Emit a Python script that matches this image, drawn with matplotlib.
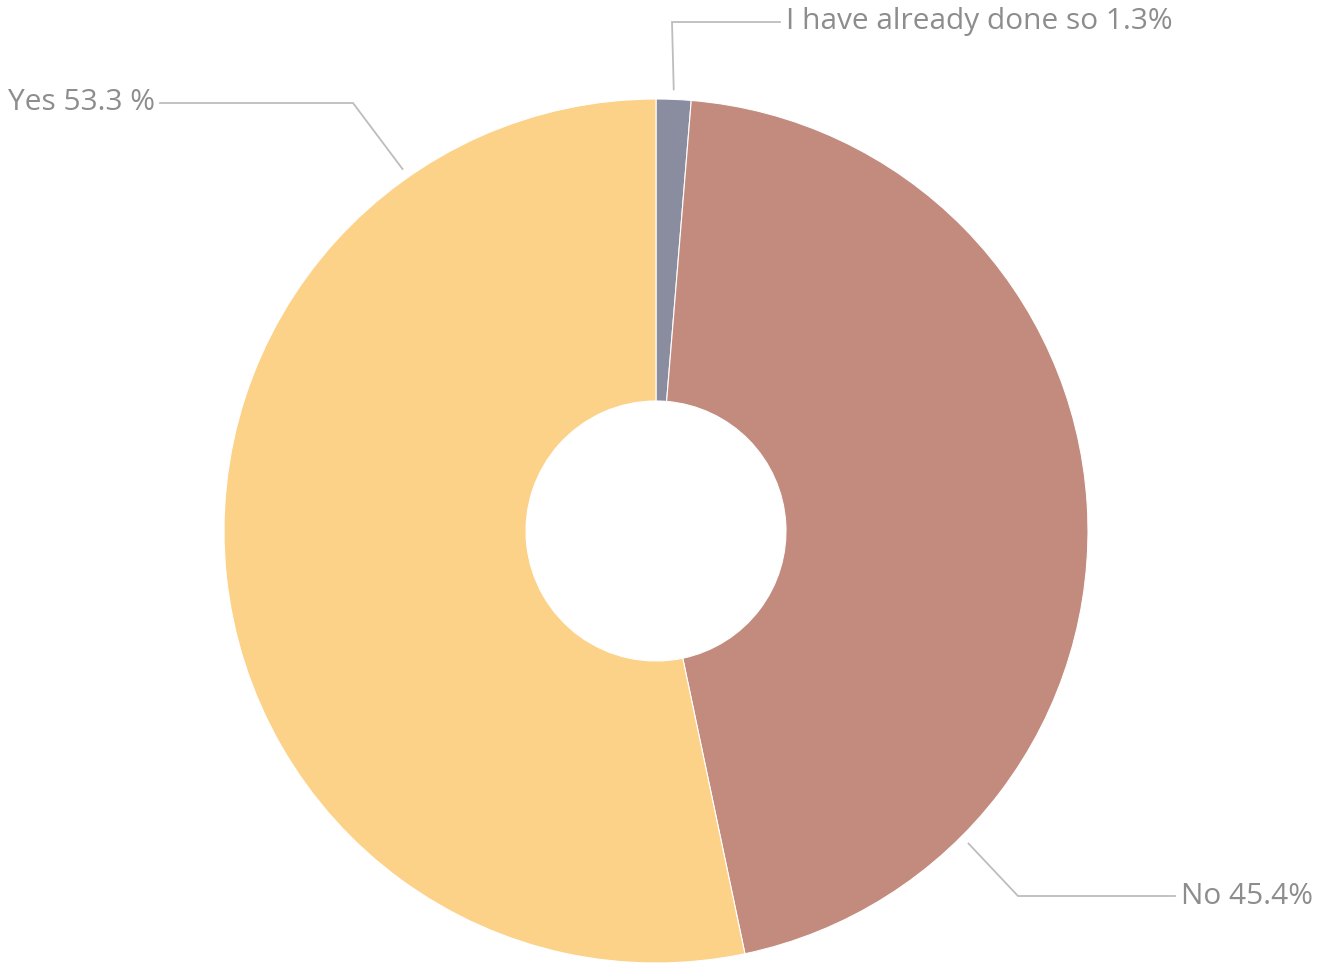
import numpy as np
import matplotlib.pyplot as plt

plt.rcParams['font.family'] = ['Open Sans', 'DejaVu Sans']

labels = ["I have already done so", "No", "Yes"]
shares = [1.3, 45.4, 53.3]
label_text = ["I have already done so 1.3%", "No 45.4%", "Yes 53.3 %"]
colors = ["#8a8c9f", "#c28b7e", "#fcd188"]

W, H = 1319, 965
fig = plt.figure(figsize=(W / 100, H / 100), dpi=100)
ax = fig.add_axes([0, 0, 1, 1])

cx, cy, R = 656, H - 531, 432
ax.pie(shares, colors=colors, startangle=90, counterclock=False,
       center=(cx, cy), radius=R, frame=True,
       wedgeprops=dict(width=R - 130, edgecolor="white", linewidth=0.8))
ax.set_xlim(0, W)
ax.set_ylim(0, H)
ax.set_aspect("equal")
ax.axis("off")

# leader lines: anchor angle on the ring, elbow point, text end
anchor_deg = [87.7, -45, 125]
elbows = [(672, H - 22), (1018, H - 896), (353, H - 103)]
ends = [(780, H - 22), (1175, H - 896), (160, H - 103)]
line_col = "#bdbdbd"
text_col = "#8d8d8d"

for txt, a, (ex, ey), (tx, ty) in zip(label_text, anchor_deg, elbows, ends):
    r = R + 10
    ax0 = cx + r * np.cos(np.radians(a))
    ay0 = cy + r * np.sin(np.radians(a))
    ax.plot([ax0, ex, tx], [ay0, ey, ty], color=line_col, lw=1.3,
            solid_joinstyle="miter")
    if tx > cx - 100:
        ax.text(tx + 6, ty, txt, ha="left", va="center", fontsize=21.5,
                color=text_col)
    else:
        ax.text(tx - 5, ty, txt, ha="right", va="center", fontsize=21.5,
                color=text_col)

fig.savefig("out.png", dpi=100, facecolor="white")
